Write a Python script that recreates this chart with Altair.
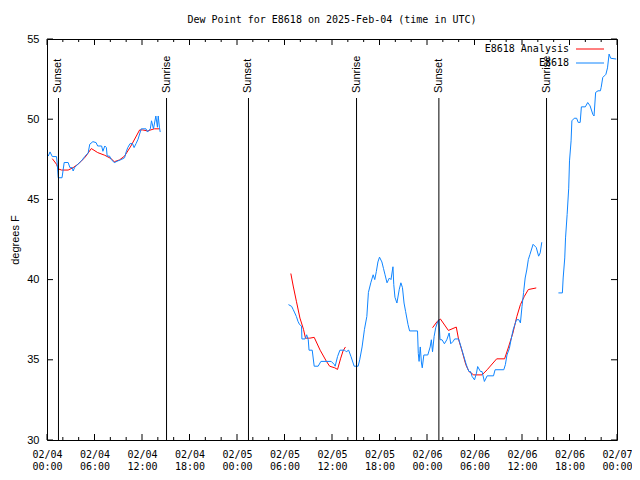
import altair as alt
import pandas as pd

# ---- data (hours since 2025-02-04 00:00 UTC, dew point degF) ----
obs_h_1 = [0.16, 0.38, 0.67, 1.2, 1.3, 1.42, 1.9, 2.17, 2.67, 2.9, 3.2, 3.3, 3.5, 3.9, 4.35, 4.77, 5.2, 5.4,
           5.8, 6.2, 6.4, 6.9, 7.06, 7.3, 7.5, 7.6, 7.9, 8.1, 8.5, 8.95, 9.45, 9.8, 10.0, 10.2, 10.5, 10.8,
           11.0, 11.25, 11.5, 11.9, 12.5, 12.7, 13.05, 13.2, 13.45, 13.75, 13.95, 14.05, 14.2, 14.3]
obs_v_1 = [47.7, 47.96, 47.67, 47.67, 47.19, 46.35, 46.35, 47.3, 47.3, 46.98, 46.98, 46.77, 47.0, 47.19, 47.4,
           47.67, 47.9, 48.44, 48.6, 48.54, 48.33, 48.33, 48.0, 48.33, 48.23, 47.7, 47.7, 47.5, 47.29, 47.4,
           47.5, 47.6, 47.96, 48.23, 48.48, 48.48, 48.23, 48.48, 48.75, 49.4, 49.4, 49.2, 49.4, 49.9, 49.4,
           50.2, 49.5, 50.2, 49.5, 49.2]

obs_h_2 = [30.5, 30.9, 31.1, 31.3, 31.5, 31.7, 31.9, 32.15, 32.2, 32.6, 32.8, 33.0, 33.1, 33.5, 33.75, 34.25,
           34.6, 35.9, 36.3, 36.4, 36.7, 37.0, 37.6, 37.8, 38.1, 38.4, 38.8, 39.3, 39.5, 39.8, 40.1, 40.4,
           40.6, 40.9, 41.2, 41.4, 41.6, 41.8, 42.0, 42.3, 42.5, 42.7, 42.95, 43.25, 43.45, 43.7, 43.8, 43.95,
           44.2, 44.5, 44.7, 44.9, 45.1, 45.3, 45.6, 45.8, 46.8, 46.9, 47.0, 47.15, 47.3, 47.4, 47.6, 48.1,
           48.4, 48.55, 48.7, 48.9, 49.1, 49.3, 49.5, 49.65, 49.9, 50.2, 50.5, 50.8, 51.0, 51.3, 51.5, 52.0,
           52.3, 52.6, 52.9, 53.1, 53.3, 53.5, 53.7, 54.0, 54.25, 54.4, 54.75, 54.95, 55.25, 55.6, 56.4, 56.6,
           57.7, 57.9, 58.1, 58.4, 58.7, 58.9, 59.1, 59.3, 59.6, 59.8, 60.0, 60.2, 60.4, 60.6, 60.8, 61.0,
           61.4, 61.8, 62.1, 62.3, 62.5]
obs_v_2 = [38.44, 38.33, 38.13, 37.92, 37.7, 37.4, 37.2, 37.1, 36.3, 36.3, 36.56, 36.25, 35.6, 35.6, 34.6, 34.6,
           34.9, 34.9, 34.7, 34.6, 35.2, 35.6, 35.6, 35.5, 35.6, 35.2, 34.6, 34.6, 35.0, 35.8, 36.9, 37.7,
           39.2, 39.8, 40.3, 40.0, 40.5, 41.1, 41.4, 41.1, 40.7, 40.3, 39.8, 40.1, 40.0, 40.8, 39.7, 38.9,
           38.54, 39.4, 39.8, 39.5, 38.54, 38.0, 37.2, 36.8, 36.8, 35.4, 34.9, 35.8, 34.8, 34.5, 35.3, 35.3,
           35.8, 36.25, 35.5, 36.46, 37.0, 37.3, 37.5, 36.25, 36.25, 36.0, 36.25, 36.67, 36.0, 36.15, 36.3, 36.3,
           35.8, 35.3, 34.8, 34.5, 34.27, 34.27, 33.96, 33.75, 34.17, 34.58, 34.27, 34.27, 33.65, 34.0, 34.0, 34.38,
           34.38, 34.7, 35.3, 35.7, 36.46, 36.9, 37.2, 37.5, 37.5, 37.3, 38.33, 39.2, 40.1, 40.6, 41.25, 41.56,
           42.2, 42.0, 41.46, 41.67, 42.33]

obs_h_3 = [64.6, 65.1, 65.2, 65.4, 65.5, 65.7, 65.9, 66.0, 66.2, 66.3, 66.6, 66.9, 67.1, 67.35, 67.5, 68.0,
           68.3, 68.6, 68.95, 69.1, 69.3, 69.6, 69.9, 70.0, 70.2, 70.4, 70.6, 70.8, 71.0, 71.2, 71.9]
obs_v_3 = [39.17, 39.17, 40.1, 41.35, 42.6, 44.06, 45.7, 47.4, 48.65, 49.9, 50.06, 50.06, 49.8, 49.8, 50.77, 50.77,
           51.04, 50.83, 50.3, 50.2, 51.67, 51.77, 51.77, 51.98, 52.6, 52.7, 52.8, 53.2, 54.06, 53.8, 53.75]

ana_h_1 = [0.67, 1.2, 1.42, 1.85, 2.67, 3.3, 3.9, 4.77, 5.6, 6.4, 7.3, 8.1, 8.5, 9.15, 9.8, 10.6, 11.7, 12.1,
           12.7, 13.55, 14.2]
ana_v_1 = [47.54, 47.19, 46.9, 46.83, 46.83, 46.98, 47.19, 47.6, 48.17, 47.92, 47.75, 47.54, 47.35, 47.46, 47.7,
           48.33, 49.33, 49.33, 49.27, 49.4, 49.4]

ana_h_2 = [30.8, 31.1, 31.5, 31.95, 32.4, 32.65, 33.2, 33.75, 34.5, 35.3, 35.7, 36.35, 36.7, 37.1, 37.4, 37.7]
ana_v_2 = [40.38, 39.6, 38.65, 37.6, 36.9, 36.35, 36.35, 36.4, 35.6, 34.9, 34.6, 34.5, 34.4, 35.1, 35.56, 35.8]

ana_h_3 = [48.7, 49.3, 49.7, 50.7, 51.7, 52.0, 52.4, 52.9, 53.3, 53.9, 54.95, 55.6, 56.8, 57.8, 58.3, 58.85,
           59.35, 59.8, 60.3, 60.8, 61.8]
ana_v_3 = [37.0, 37.4, 37.54, 36.83, 37.04, 36.25, 35.6, 34.7, 34.27, 34.06, 34.06, 34.38, 35.06, 35.06, 35.8,
           36.67, 37.7, 38.44, 38.96, 39.38, 39.48]

sun_hours = [1.45, 15.1, 25.45, 39.1, 49.5, 63.1]
sun_labels = ["Sunset", "Sunrise", "Sunset", "Sunrise", "Sunset", "Sunrise"]

x_major = list(range(0, 73, 6))
x_minor = [h for h in range(2, 72, 2) if h % 6]
y_major = [30, 35, 40, 45, 50, 55]

series_names = ["E8618 Analysis", "E8618"]
series_colors = ["#ff0000", "#0f85ff"]
title_text = "Dew Point for E8618 on 2025-Feb-04 (time in UTC)"

# ---- frames ----
rows = []
for name, segs in [("E8618 Analysis", [(ana_h_1, ana_v_1), (ana_h_2, ana_v_2), (ana_h_3, ana_v_3)]),
                   ("E8618", [(obs_h_1, obs_v_1), (obs_h_2, obs_v_2), (obs_h_3, obs_v_3)])]:
    for i, (hs, vs) in enumerate(segs):
        for h, v in zip(hs, vs):
            rows.append({"h": h, "v": v, "series": name, "seg": f"{name}-{i}"})
df = pd.DataFrame(rows)
df_ana = df[df.series == "E8618 Analysis"]
df_obs = df[df.series == "E8618"]

W, H = 570, 401
MONO = "DejaVu Sans Mono"
SANS = "Liberation Sans"

xscale = alt.Scale(domain=[0, 72], nice=False, zero=False)
yscale = alt.Scale(domain=[30, 55], nice=False, zero=False)

label_expr = ("['02/0' + (4 + floor(datum.value / 24)), "
              "(datum.value % 24 < 10 ? '0' : '') + (datum.value % 24) + ':00']")

x_axis = alt.Axis(values=x_major, labelExpr=label_expr, title=None, labelFont=MONO, labelFontSize=10,
                  labelColor="black", labelPadding=9, labelLineHeight=12, labelBaseline="top",
                  labelFlush=False, labelOverlap=False)
y_axis = alt.Axis(values=y_major, labelFont=SANS, labelFontSize=11, labelColor="black", labelPadding=8,
                  labelFlush=False, title="degrees F", titleFont=SANS, titleFontSize=11,
                  titleFontWeight="normal", titleColor="black", titleX=-32, titleY=H / 2,
                  titleAngle=270, titleAlign="center", titleBaseline="middle")


def X(field):
    return alt.X(field, scale=xscale, axis=x_axis, title=None)


def Y(field):
    return alt.Y(field, scale=yscale, axis=y_axis, title="degrees F")


color_scale = alt.Scale(domain=series_names, range=series_colors)

ana_line = alt.Chart(df_ana).mark_line(strokeWidth=1).encode(
    x=X("h:Q"), y=Y("v:Q"),
    color=alt.Color("series:N", scale=color_scale, legend=None),
    detail="seg:N",
)
obs_line = alt.Chart(df_obs).mark_line(strokeWidth=1).encode(
    x=X("h:Q"), y=Y("v:Q"),
    color=alt.Color("series:N", scale=color_scale, legend=None),
    detail="seg:N",
)

sun_df = pd.DataFrame({"h": sun_hours, "label": sun_labels})
sun_rules = alt.Chart(sun_df).mark_rule(color="black", strokeWidth=1).encode(
    x=X("h:Q"), y=alt.value(59), y2=alt.value(H))
sun_text = alt.Chart(sun_df).mark_text(angle=270, align="left", baseline="middle", font=SANS,
                                       fontSize=11, color="black").encode(
    x=X("h:Q"), y=alt.value(54), text="label:N")

xmaj = pd.DataFrame({"h": x_major})
xmin = pd.DataFrame({"h": x_minor})
ymaj = pd.DataFrame({"v": y_major})
tick_layers = []
for d, ln in [(xmaj, 6), (xmin, 3)]:
    tick_layers.append(alt.Chart(d).mark_rule(color="black", strokeWidth=1).encode(
        x=X("h:Q"), y=alt.value(H), y2=alt.value(H - ln)))
    tick_layers.append(alt.Chart(d).mark_rule(color="black", strokeWidth=1).encode(
        x=X("h:Q"), y=alt.value(0), y2=alt.value(ln)))
tick_layers.append(alt.Chart(ymaj).mark_rule(color="black", strokeWidth=1).encode(
    y=Y("v:Q"), x=alt.value(0), x2=alt.value(6)))
tick_layers.append(alt.Chart(ymaj).mark_rule(color="black", strokeWidth=1).encode(
    y=Y("v:Q"), x=alt.value(W - 6), x2=alt.value(W)))

title_df = pd.DataFrame({"label": [title_text]})
title_mark = alt.Chart(title_df).mark_text(font=MONO, fontSize=10, color="black", align="center",
                                           baseline="middle").encode(
    x=alt.value(W / 2), y=alt.value(-19), text="label:N")

leg_layers = []
for i, (name, col) in enumerate(zip(series_names, series_colors)):
    ld = pd.DataFrame({"label": [name]})
    yy = 10 + 14 * i
    leg_layers.append(alt.Chart(ld).mark_text(font=MONO, fontSize=10, color="black", align="right",
                                              baseline="middle").encode(
        x=alt.value(W - 48), y=alt.value(yy), text="label:N"))
    leg_layers.append(alt.Chart(ld).mark_rule(color=col, strokeWidth=1).encode(
        x=alt.value(W - 41), x2=alt.value(W - 13), y=alt.value(yy)))

chart = alt.layer(ana_line, obs_line, sun_rules, sun_text, *tick_layers, title_mark, *leg_layers).properties(
    width=W, height=H,
    autosize=alt.AutoSizeParams(type="none"),
    padding={"left": 39, "top": 31, "right": 15, "bottom": 30},
    background="white",
).configure_axis(grid=False, domain=False, ticks=False).configure_view(stroke="black", strokeWidth=1)

chart.save("out.html", embed_options={"renderer": "svg", "actions": False})
